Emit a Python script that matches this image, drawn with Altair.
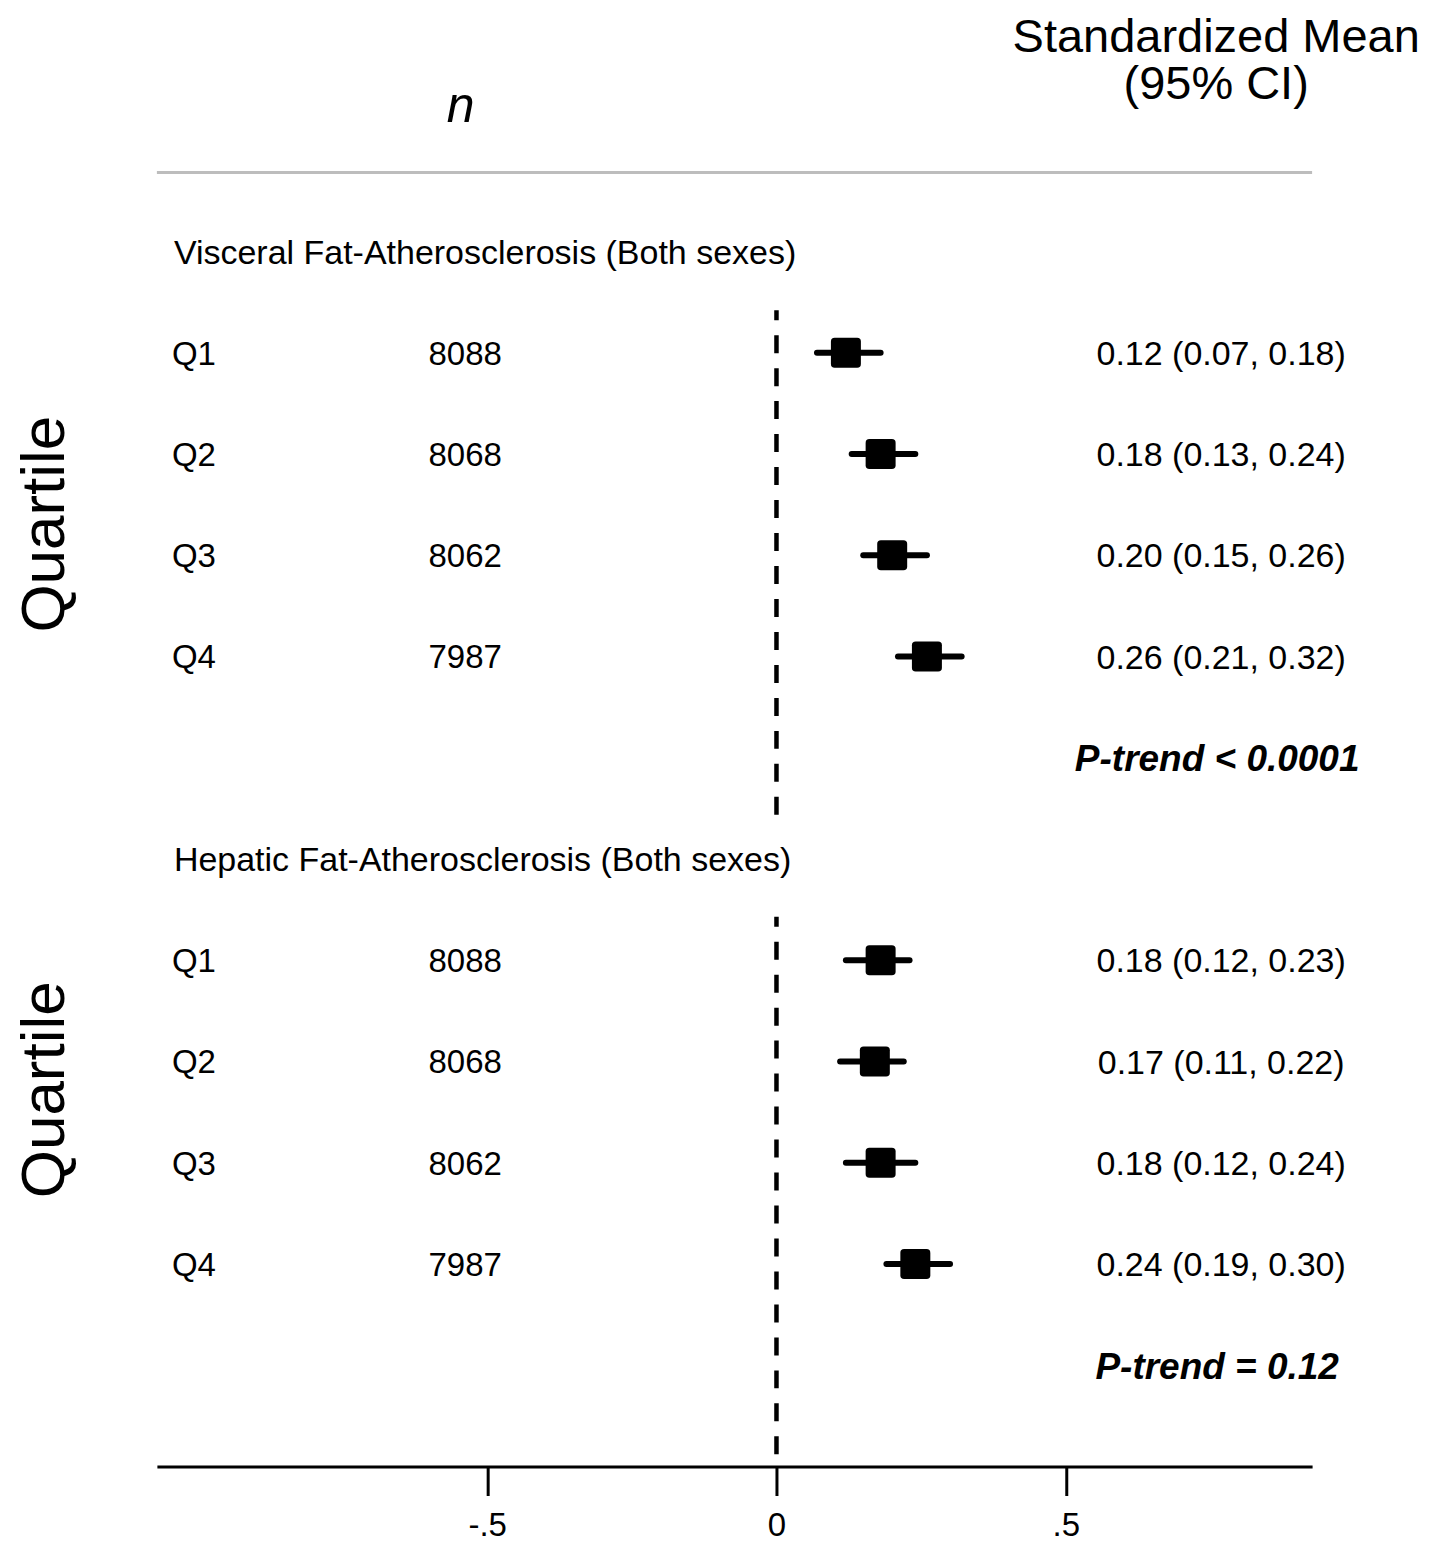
import altair as alt
import pandas as pd

# ---------------- data ----------------
groups = ["Visceral Fat-Atherosclerosis (Both sexes)", "Hepatic Fat-Atherosclerosis (Both sexes)"]
quartiles = ["Q1", "Q2", "Q3", "Q4"]
n_values = [8088, 8068, 8062, 7987]
visceral_mean = [0.12, 0.18, 0.20, 0.26]
visceral_lo = [0.07, 0.13, 0.15, 0.21]
visceral_hi = [0.18, 0.24, 0.26, 0.32]
hepatic_mean = [0.18, 0.17, 0.18, 0.24]
hepatic_lo = [0.12, 0.11, 0.12, 0.19]
hepatic_hi = [0.23, 0.22, 0.24, 0.30]
p_trend = ["P-trend < 0.0001", "P-trend = 0.12"]
tick_values = [-0.5, 0, 0.5]
tick_labels = ["-.5", "0", ".5"]
header_n = "n"
header_est = ["Standardized Mean", "(95% CI)"]
side_label = "Quartile"

# ---------------- layout ----------------
FONT = "Liberation Sans"
W, H = 1156, 1459
ROWS_PER_GROUP = 6
Y_TOP, Y_BOT = -2.399, 12.0

means = [visceral_mean, hepatic_mean]
los = [visceral_lo, hepatic_lo]
his = [visceral_hi, hepatic_hi]

rows = []
for g in range(len(groups)):
    for i, q in enumerate(quartiles):
        m, lo, hi = means[g][i], los[g][i], his[g][i]
        rows.append({
            "r": g * ROWS_PER_GROUP + i + 1,
            "q": q,
            "n": str(n_values[i]),
            "m": m, "lo": lo, "hi": hi,
            "lab": f"{m:.2f} ({lo:.2f}, {hi:.2f})",
        })
df = pd.DataFrame(rows)
titles = pd.DataFrame({"r": [g * ROWS_PER_GROUP for g in range(len(groups))], "t": groups})
ptr = pd.DataFrame({"r": [g * ROWS_PER_GROUP + 5 for g in range(len(groups))], "t": p_trend})
dash = pd.DataFrame({"x": [0, 0], "r1": [0.58, 6.57], "r2": [5.57, Y_BOT]})

label_expr = "".join(f"datum.value == {v} ? '{l}' : " for v, l in zip(tick_values, tick_labels)) + "''"

xscale = alt.Scale(domain=[-1.0708, 0.9257], nice=False, zero=False)
yscale = alt.Scale(domain=[Y_TOP, Y_BOT], reverse=True, nice=False, zero=False)
xaxis = alt.Axis(values=tick_values, labelExpr=label_expr, title=None, grid=False,
                 domainColor="black", domainWidth=3, tickColor="black", tickWidth=3,
                 tickSize=29, labelFont=FONT, labelFontSize=33, labelColor="black",
                 labelPadding=14, labelFlush=False)

X = lambda f: alt.X(f, scale=xscale, axis=xaxis)
Y = lambda f: alt.Y(f, scale=yscale, axis=None)

rounded_square = ("M -1 -0.75 Q -1 -1 -0.75 -1 L 0.75 -1 Q 1 -1 1 -0.75 L 1 0.75 "
                  "Q 1 1 0.75 1 L -0.75 1 Q -1 1 -1 0.75 Z")

zero_line = alt.Chart(dash).mark_rule(color="black", strokeWidth=4.5, strokeDash=[18, 15],
                                      strokeDashOffset=8).encode(
    x=X("x:Q"), y=Y("r1:Q"), y2="r2:Q")

top_line = alt.Chart(pd.DataFrame({"t": [""]})).mark_rule(color="#bdbdbd", strokeWidth=3).encode(
    x=alt.value(0), x2=alt.value(W), y=alt.value(164))

ci = alt.Chart(df).mark_rule(color="black", strokeWidth=6, strokeCap="round").encode(
    x=X("lo:Q"), x2="hi:Q", y=Y("r:Q"))

pts = alt.Chart(df).mark_point(shape=rounded_square, filled=True, size=900, color="black",
                               opacity=1, strokeWidth=0).encode(
    x=X("m:Q"), y=Y("r:Q"))

def txt(data, field, xpx, size, align="left", style="normal", weight="normal"):
    return alt.Chart(data).mark_text(
        align=align, baseline="alphabetic", dy=0.358 * size, font=FONT, fontSize=size,
        fontStyle=style, fontWeight=weight, color="black").encode(
        x=alt.value(xpx), y=Y("r:Q"), text=f"{field}:N")

q_txt = txt(df, "q", 15, 33)
n_txt = txt(df, "n", 308.5, 33, align="center")
est_txt = txt(df, "lab", 1065, 34, align="center")
title_txt = txt(titles, "t", 17, 34)
p_txt = txt(ptr, "t", 1061, 37, align="center", style="italic", weight="bold")

def header(text, xpx, ypx, size, style="normal", angle=0, align="center"):
    return alt.Chart(pd.DataFrame({"t": [text]})).mark_text(
        align=align, baseline="alphabetic", font=FONT, fontSize=size, fontStyle=style,
        angle=angle, color="black").encode(
        x=alt.value(xpx), y=alt.value(ypx), text="t:N")

h1 = header(header_est[0], 1060, 43, 47)
h2 = header(header_est[1], 1060, 91, 47)
hn = header(header_n, 304, 114, 50, style="italic")
quart1 = header(side_label, -93, 516, 62, angle=270)
quart2 = header(side_label, -93, 1082, 62, angle=270)

chart = alt.layer(
    zero_line, top_line, ci, pts, q_txt, n_txt, est_txt, title_txt, p_txt,
    h1, h2, hn, quart1, quart2
).properties(
    width=W, height=H,
    padding={"left": 149, "top": 0, "right": 130, "bottom": 84},
    autosize=alt.AutoSizeParams(type="none"),
    background="white",
).configure_view(stroke=None)

chart.save("out.html", embed_options={"renderer": "svg", "actions": False})
